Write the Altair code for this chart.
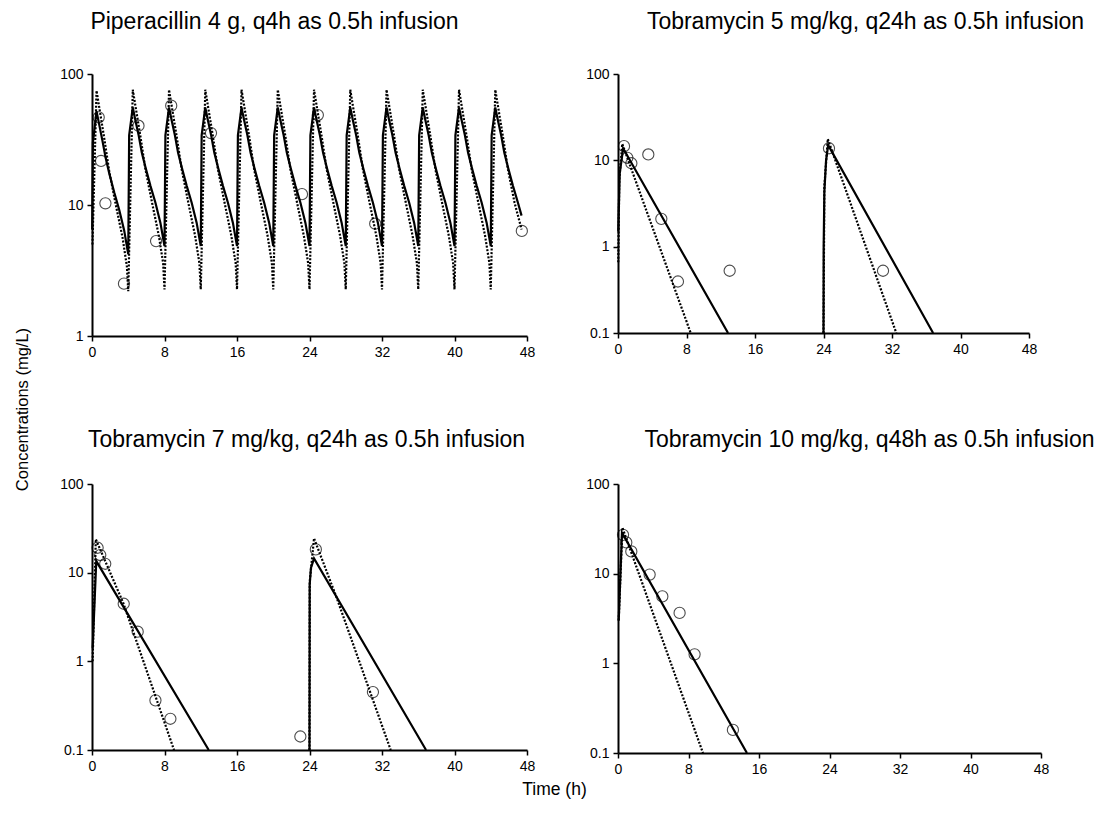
import altair as alt
import pandas as pd

FONT = "Liberation Sans"

# ---------------- Panel 1: Piperacillin 4 g q4h ----------------
pip_solid_t = [0.02, 0.1, 0.5, 0.77, 1.15, 1.5, 1.9, 2.45, 3.0, 3.55, 4.0,
               4.1, 4.5, 4.77, 5.15, 5.5, 5.9, 6.45, 7.0, 7.55, 8.0,
               8.1, 8.5, 8.77, 9.15, 9.5, 9.9, 10.45, 11.0, 11.55, 12.0,
               12.1, 12.5, 12.77, 13.15, 13.5, 13.9, 14.45, 15.0, 15.55, 16.0,
               16.1, 16.5, 16.77, 17.15, 17.5, 17.9, 18.45, 19.0, 19.55, 20.0,
               20.1, 20.5, 20.77, 21.15, 21.5, 21.9, 22.45, 23.0, 23.55, 24.0,
               24.1, 24.5, 24.77, 25.15, 25.5, 25.9, 26.45, 27.0, 27.55, 28.0,
               28.1, 28.5, 28.77, 29.15, 29.5, 29.9, 30.45, 31.0, 31.55, 32.0,
               32.1, 32.5, 32.77, 33.15, 33.5, 33.9, 34.45, 35.0, 35.55, 36.0,
               36.1, 36.5, 36.77, 37.15, 37.5, 37.9, 38.45, 39.0, 39.55, 40.0,
               40.1, 40.5, 40.77, 41.15, 41.5, 41.9, 42.45, 43.0, 43.55, 44.0,
               44.1, 44.5, 44.77, 45.15, 45.5, 45.9, 46.45, 47.0, 47.4]
pip_solid_c = [6.5, 30, 52, 42, 31, 23, 17.5, 12.5, 9.2, 6.4, 4.2,
               34, 55.6, 45, 34, 25, 19.4, 14, 10.4, 7.3, 4.86,
               34, 55.6, 45, 34, 25, 19.4, 14, 10.4, 7.3, 4.86,
               34, 55.6, 45, 34, 25, 19.4, 14, 10.4, 7.3, 4.86,
               34, 55.6, 45, 34, 25, 19.4, 14, 10.4, 7.3, 4.86,
               34, 55.6, 45, 34, 25, 19.4, 14, 10.4, 7.3, 4.86,
               34, 55.6, 45, 34, 25, 19.4, 14, 10.4, 7.3, 4.86,
               34, 55.6, 45, 34, 25, 19.4, 14, 10.4, 7.3, 4.86,
               34, 55.6, 45, 34, 25, 19.4, 14, 10.4, 7.3, 4.86,
               34, 55.6, 45, 34, 25, 19.4, 14, 10.4, 7.3, 4.86,
               34, 55.6, 45, 34, 25, 19.4, 14, 10.4, 7.3, 4.86,
               34, 55.6, 45, 34, 25, 19.4, 14, 10.4, 8.3]
pip_dotted_t = [0.05, 0.5, 1.33, 1.89, 2.63, 3.38, 3.85, 4.0,
                4.5, 5.33, 5.89, 6.63, 7.38, 7.85, 8.0,
                8.5, 9.33, 9.89, 10.63, 11.38, 11.85, 12.0,
                12.5, 13.33, 13.89, 14.63, 15.38, 15.85, 16.0,
                16.5, 17.33, 17.89, 18.63, 19.38, 19.85, 20.0,
                20.5, 21.33, 21.89, 22.63, 23.38, 23.85, 24.0,
                24.5, 25.33, 25.89, 26.63, 27.38, 27.85, 28.0,
                28.5, 29.33, 29.89, 30.63, 31.38, 31.85, 32.0,
                32.5, 33.33, 33.89, 34.63, 35.38, 35.85, 36.0,
                36.5, 37.33, 37.89, 38.63, 39.38, 39.85, 40.0,
                40.5, 41.33, 41.89, 42.63, 43.38, 43.85, 44.0,
                44.5, 45.33, 45.89, 46.63, 47.4]
pip_dotted_c = [5, 74.6, 33, 18.3, 10, 5.6, 3.4, 2.2,
                75.8, 33.8, 18.8, 10.4, 5.8, 3.6, 2.27,
                75.8, 33.8, 18.8, 10.4, 5.8, 3.6, 2.27,
                75.8, 33.8, 18.8, 10.4, 5.8, 3.6, 2.27,
                75.8, 33.8, 18.8, 10.4, 5.8, 3.6, 2.27,
                75.8, 33.8, 18.8, 10.4, 5.8, 3.6, 2.27,
                75.8, 33.8, 18.8, 10.4, 5.8, 3.6, 2.27,
                75.8, 33.8, 18.8, 10.4, 5.8, 3.6, 2.27,
                75.8, 33.8, 18.8, 10.4, 5.8, 3.6, 2.27,
                75.8, 33.8, 18.8, 10.4, 5.8, 3.6, 2.27,
                75.8, 33.8, 18.8, 10.4, 5.8, 3.6, 2.27,
                75.8, 33.8, 18.8, 10.4, 6.5]
pip_obs_t = [0.74, 1.0, 1.48, 3.53, 5.13, 7.07, 8.74, 13.13, 23.17, 24.92, 31.25, 47.43]
pip_obs_c = [46.7, 21.7, 10.3, 2.51, 40.3, 5.3, 57.3, 35.4, 12.1, 48.6, 7.2, 6.34]

# ---------------- Panel 2: Tobramycin 5 mg/kg q24h ----------------
t5_solid_t = [0.03, 0.2, 0.6, 12.85, 24.0, 24.02, 24.1, 24.3, 24.55, 36.8]
t5_solid_c = [1.5, 7, 13.8, 0.1, 0.1, 1.0, 4.3, 10, 15, 0.1]
t5_solid_seg = [1, 1, 1, 1, 2, 2, 2, 2, 2, 2]
t5_dotted_t = [0.03, 0.15, 0.5, 8.49, 24.0, 24.1, 24.5, 32.5]
t5_dotted_c = [0.66, 6, 15.5, 0.1, 0.1, 5, 17.7, 0.1]
t5_dotted_seg = [1, 1, 1, 1, 2, 2, 2, 2]
t5_obs_t = [0.7, 1.09, 1.56, 3.54, 5.06, 7.0, 13.04, 24.64, 30.95]
t5_obs_c = [14.6, 10.7, 9.25, 11.7, 2.1, 0.395, 0.526, 13.8, 0.526]

# ---------------- Panel 3: Tobramycin 7 mg/kg q24h ----------------
t7_solid_t = [0.07, 0.47, 12.88, 24.0, 24.02, 24.16, 24.5, 36.86]
t7_solid_c = [1.4, 13.5, 0.1, 0.1, 7.3, 11.3, 14.5, 0.1]
t7_solid_seg = [1, 1, 1, 2, 2, 2, 2, 2]
t7_dotted_t = [0.07, 0.42, 3.47, 9.05, 24.0, 24.03, 24.5, 27.0, 32.96]
t7_dotted_c = [1.0, 23.8, 4.5, 0.1, 0.1, 8, 24.4, 5.2, 0.1]
t7_dotted_seg = [1, 1, 1, 1, 2, 2, 2, 2, 2]
t7_obs_t = [0.62, 0.91, 1.46, 3.5, 5.04, 7.0, 8.65, 22.99, 24.7, 31.0]
t7_obs_c = [19.1, 15.8, 12.6, 4.46, 2.16, 0.363, 0.225, 0.142, 18.3, 0.45]

# ---------------- Panel 4: Tobramycin 10 mg/kg q48h ----------------
t10_solid_t = [0.08, 0.45, 14.63]
t10_solid_c = [3.0, 28.7, 0.1]
t10_dotted_t = [0.08, 0.5, 9.64]
t10_dotted_c = [3.0, 32.6, 0.1]
t10_obs_t = [0.57, 0.94, 1.51, 3.59, 5.03, 6.99, 8.69, 13.04]
t10_obs_c = [27.1, 22.3, 17.7, 9.77, 5.58, 3.65, 1.26, 0.181]

x_ticks = [0, 8, 16, 24, 32, 40, 48]


def frame(t, c, seg=None):
    if seg is None:
        seg = [1] * len(t)
    return pd.DataFrame({"t": t, "c": c, "seg": seg})


def panel(solid, dotted, obs, title, dx, title_offset, ydom, yvals, w, h,
          ytitle=None, xtitle=None):
    yaxis_kw = dict(values=yvals, format="~g", labelOverlap=False)
    if ytitle:
        yaxis_kw.update(title=ytitle, titleX=-70, titleY=335, titleAlign="center",
                        titleBaseline="middle", titleAngle=270, titleFontSize=16.5)
    else:
        yaxis_kw.update(title=None)
    xaxis_kw = dict(values=x_ticks, labelFlush=False, labelOverlap=False)
    if xtitle:
        xaxis_kw.update(title=xtitle, titleX=462, titleY=39, titleAlign="center",
                        titleBaseline="middle")
    else:
        xaxis_kw.update(title=None)
    x = alt.X("t:Q", scale=alt.Scale(domain=[0, 48], nice=False, zero=False),
              axis=alt.Axis(**xaxis_kw))
    y = alt.Y("c:Q", scale=alt.Scale(type="log", domain=ydom, nice=False),
              axis=alt.Axis(**yaxis_kw))
    s = alt.Chart(solid).mark_line(color="black", strokeWidth=2.2).encode(
        x=x, y=y, detail="seg:N", order="t:Q")
    d = alt.Chart(dotted).mark_line(color="black", strokeWidth=2.2,
                                    strokeDash=[2, 1.6], strokeCap="butt").encode(
        x=x, y=y, detail="seg:N", order="t:Q")
    p = alt.Chart(obs).mark_point(shape="circle", filled=False, color="black",
                                  size=125, strokeWidth=1.1).encode(x=x, y=y)
    return alt.layer(s, d, p).properties(
        width=w, height=h,
        title=alt.TitleParams(title, anchor="middle", dx=dx, offset=title_offset))


p1 = panel(frame(pip_solid_t, pip_solid_c), frame(pip_dotted_t, pip_dotted_c),
           frame(pip_obs_t, pip_obs_c),
           "Piperacillin 4 g, q4h as 0.5h infusion", -35, 33, [1, 100], [1, 10, 100],
           435, 262, ytitle="Concentrations (mg/L)")
p2 = panel(frame(t5_solid_t, t5_solid_c, t5_solid_seg),
           frame(t5_dotted_t, t5_dotted_c, t5_dotted_seg),
           frame(t5_obs_t, t5_obs_c),
           "Tobramycin 5 mg/kg, q24h as 0.5h infusion", 42, 33, [0.1, 100],
           [0.1, 1, 10, 100], 411, 259)
p3 = panel(frame(t7_solid_t, t7_solid_c, t7_solid_seg),
           frame(t7_dotted_t, t7_dotted_c, t7_dotted_seg),
           frame(t7_obs_t, t7_obs_c),
           "Tobramycin 7 mg/kg, q24h as 0.5h infusion", -3, 25, [0.1, 100],
           [0.1, 1, 10, 100], 435, 266, xtitle="Time (h)")
p4 = panel(frame(t10_solid_t, t10_solid_c), frame(t10_dotted_t, t10_dotted_c),
           frame(t10_obs_t, t10_obs_c),
           "Tobramycin 10 mg/kg, q48h as 0.5h infusion", 40, 25, [0.1, 100],
           [0.1, 1, 10, 100], 423, 269)

chart = alt.concat(p1, p2, p3, p4, columns=2, bounds="flush", align="each",
                   spacing={"row": 148, "column": 91}).properties(
    padding={"left": 5, "top": 2, "right": 5, "bottom": 5}
).configure_view(stroke="transparent").configure_axis(
    grid=False, domainColor="black", domainWidth=2, tickColor="black",
    tickWidth=1.5, tickSize=5, labelColor="black", labelFont=FONT,
    labelFontSize=14, labelPadding=4, titleFont=FONT, titleFontSize=17.5,
    titleFontWeight="normal", titleColor="black"
).configure_title(font=FONT, fontSize=23, fontWeight="normal", color="black")

chart.save("out.html", embed_options={"renderer": "svg", "actions": False})
